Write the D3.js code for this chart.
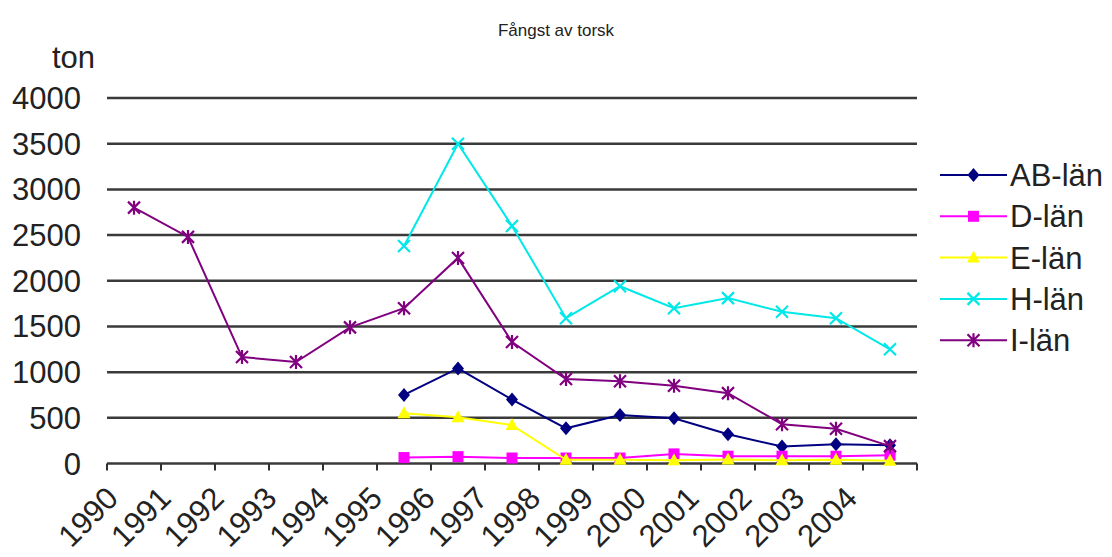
<!DOCTYPE html>
<html><head><meta charset="utf-8">
<script src="https://cdn.jsdelivr.net/npm/d3@7"></script>
<style>body{margin:0;background:#fff}svg{display:block}text{font-family:"Liberation Sans",Arial,sans-serif;fill:#222}</style>
</head><body><svg id="c" width="1112" height="557"></svg>
<script>
const years = ["1990","1991","1992","1993","1994","1995","1996","1997","1998","1999","2000","2001","2002","2003","2004"];
const yTicks = [0,500,1000,1500,2000,2500,3000,3500,4000];
const seriesNames = ["AB-län","D-län","E-län","H-län","I-län"];
const seriesColors = ["#000080","#ff00ff","#ffff00","#00e8e8","#800080"];
const seriesMarkers = ["diamond","square","triangle","x","star"];
const abLan = [null,null,null,null,null,750,1040,700,385,530,495,320,185,210,200];
const dLan  = [null,null,null,null,null,65,75,60,60,60,105,80,80,80,90];
const eLan  = [null,null,null,null,null,550,505,420,40,40,35,45,35,40,30];
const hLan  = [null,null,null,null,null,2380,3500,2600,1590,1940,1700,1810,1660,1590,1250];
const iLan  = [2800,2480,1165,1110,1490,1700,2250,1330,925,900,850,770,430,380,190];
const seriesValues = [abLan,dLan,eLan,hLan,iLan];

const svg = d3.select("#c");
const x = d3.scaleBand().domain(years).range([107,917]).padding(0);
const xLabel = d3.scalePoint().domain(years).range([120,859]);
const y = d3.scaleLinear().domain([0,4000]).range([463.5,98]);
const cx = d => x(d) + x.bandwidth()/2;
const FS = 31;

svg.append("text").attr("x",556).attr("y",36).attr("text-anchor","middle").attr("font-size",17).text("Fångst av torsk");
svg.append("text").attr("x",95).attr("y",68).attr("text-anchor","end").attr("font-size",FS).text("ton");

// gridlines
svg.append("g").selectAll("line").data(yTicks).join("line")
  .attr("x1",107).attr("x2",917).attr("y1",d=>y(d)).attr("y2",d=>y(d))
  .attr("stroke","#3a3a3a").attr("stroke-width",2.5);
// y labels
svg.append("g").selectAll("text").data(yTicks).join("text")
  .attr("x",81).attr("y",d=>y(d)+11).attr("text-anchor","end").attr("font-size",FS).text(d=>d);
// x ticks
const bounds = years.map(d=>x(d)).concat([x(years[years.length-1])+x.bandwidth()]);
svg.append("g").selectAll("line").data(bounds).join("line")
  .attr("x1",d=>d).attr("x2",d=>d).attr("y1",y(0)).attr("y2",y(0)+7)
  .attr("stroke","#303030").attr("stroke-width",2);
svg.append("g").selectAll("text").data(years).join("text")
  .attr("text-anchor","end").attr("font-size",FS)
  .attr("transform",d=>`translate(${xLabel(d)},${500}) rotate(-45)`).text(d=>d);

function marker(g, type, color, px, py){
  const s=6;
  if(type==="diamond") g.append("path").attr("d",`M${px},${py-s-1}L${px+s},${py}L${px},${py+s+1}L${px-s},${py}Z`).attr("fill",color);
  else if(type==="square") g.append("rect").attr("x",px-5.5).attr("y",py-5.5).attr("width",11).attr("height",11).attr("fill",color);
  else if(type==="triangle") g.append("path").attr("d",`M${px},${py-7}L${px+6.5},${py+5}L${px-6.5},${py+5}Z`).attr("fill",color);
  else if(type==="x") g.append("path").attr("d",`M${px-6},${py-6}L${px+6},${py+6}M${px+6},${py-6}L${px-6},${py+6}`).attr("stroke",color).attr("stroke-width",2.2);
  else if(type==="star") g.append("path").attr("d",`M${px-6},${py-6}L${px+6},${py+6}M${px+6},${py-6}L${px-6},${py+6}M${px},${py-7}L${px},${py+7}`).attr("stroke",color).attr("stroke-width",2.2);
}

const line = d3.line().defined(d=>d.v!=null).x(d=>cx(d.year)).y(d=>y(d.v));
seriesNames.forEach((name,i)=>{
  const pts = years.map((yr,j)=>({year:yr,v:seriesValues[i][j]}));
  const g = svg.append("g");
  g.append("path").datum(pts).attr("d",line).attr("fill","none").attr("stroke",seriesColors[i]).attr("stroke-width",2);
  pts.filter(p=>p.v!=null).forEach(p=>marker(g,seriesMarkers[i],seriesColors[i],cx(p.year),y(p.v)));
});

// legend
seriesNames.forEach((name,i)=>{
  const ly = 175 + i*41.3;
  const g = svg.append("g");
  g.append("line").attr("x1",940).attr("x2",1007).attr("y1",ly).attr("y2",ly).attr("stroke",seriesColors[i]).attr("stroke-width",2);
  marker(g,seriesMarkers[i],seriesColors[i],973.5,ly);
  g.append("text").attr("x",1010).attr("y",ly+11).attr("font-size",FS).text(name);
});
</script></body></html>
